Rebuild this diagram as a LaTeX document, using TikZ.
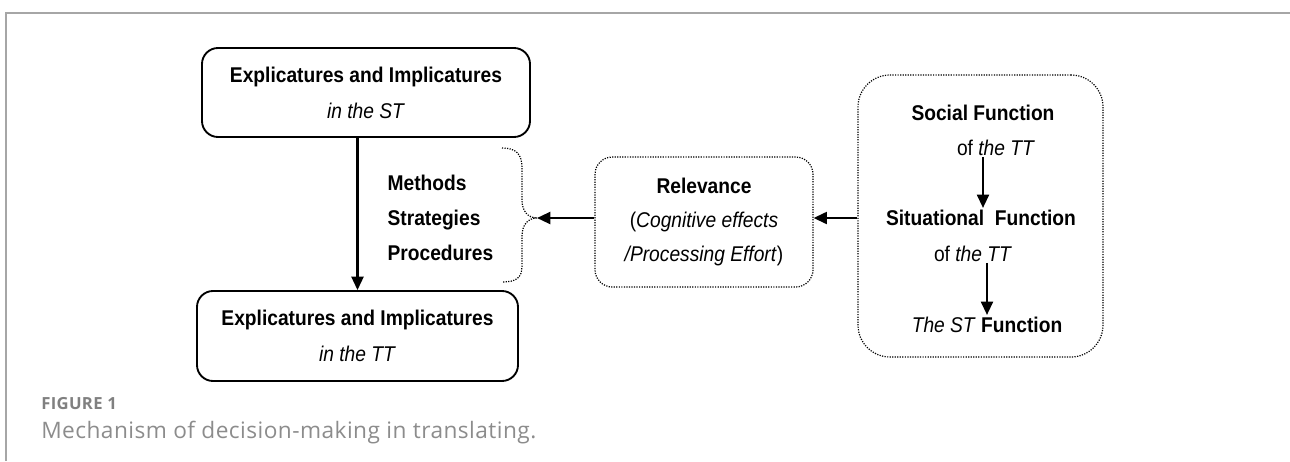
\documentclass[tikz,border=0pt]{standalone}
\usepackage{fontspec}
\setmainfont{Liberation Sans}[FakeStretch=0.9]
\newfontfamily\capfont{Open Sans}[LetterSpace=2]
\usetikzlibrary{positioning, arrows.meta}

\begin{document}
\begin{tikzpicture}[
  x=0.75pt, y=-0.75pt,
  node distance=10pt and 20pt,
  solidbox/.style={rectangle, draw, line width=1.4pt, rounded corners=12pt, align=center, font=\fontsize{16}{27}\selectfont},
  dotbox/.style={rectangle, draw, densely dotted, line width=0.9pt, align=center, font=\fontsize{16}{25.5}\selectfont},
  txt/.style={inner sep=1pt, font=\fontsize{16}{18}\selectfont},
  arrow/.style={line width=1.6pt, -{Triangle[length=10pt, width=9pt]}},
  frame/.style={draw=black!35, line width=1.5pt},
  capstyle/.style={anchor=base west, inner sep=0pt}
  ]

  % Frame
  \useasboundingbox (0,0) rectangle (1290,461);
  \draw[frame] (6,461) -- (6,13) -- (1290,13);

  % Nodes
  \node[solidbox, minimum width=246pt, minimum height=66.75pt] (stbox) at (366,92.5) {\textbf{Explicatures and Implicatures}\\\textit{in the ST}};
  \node[solidbox, minimum width=240.75pt, minimum height=67.5pt] (ttbox) at (357.5,336) {\textbf{Explicatures and Implicatures}\\\textit{in the TT}};
  \node[txt, align=left, anchor=west, font=\fontsize{16}{26}\selectfont\bfseries] (methods) at (386,218) {Methods\\Strategies\\Procedures};
  \node[dotbox, rounded corners=13pt, minimum width=163.5pt, minimum height=97.5pt] (rel) at (704,222) {\textbf{Relevance}\\(\textit{Cognitive effects}\\\textit{/Processing Effort})};
  \node[dotbox, rounded corners=24pt, minimum width=183.75pt, minimum height=211.5pt] (funcbox) at (980.5,216) {};

  \node[txt, anchor=base] (social) at (983,120) {\textbf{Social Function}};
  \node[txt, anchor=base] (socialof) at (996,155) {of \textit{the TT}};
  \node[txt, anchor=base] (situ) at (981,225) {\textbf{Situational\hspace{0.5em}Function}};
  \node[txt, anchor=base] (situof) at (973,261) {of \textit{the TT}};
  \node[txt, anchor=base] (stfun) at (987,332) {\textit{The ST} \textbf{Function}};

  % Brace
  \coordinate (tip) at (537,218);
  \draw[densely dotted, line width=0.9pt] (502,148) .. controls (516,148) and (522,154) .. (522,168) -- (522,200) .. controls (522,211) and (528,218) .. (tip) .. controls (528,218) and (522,225) .. (522,236) -- (522,266) .. controls (522,278) and (516,282) .. (502,282);

  % Arrows
  \draw[arrow] (stbox.south -| ttbox.north) -- (ttbox.north);
  \draw[arrow] (rel.west |- tip) -- (tip);
  \draw[arrow] (funcbox.west |- tip) -- (rel.east |- tip);
  \draw[arrow] (socialof.south -| social.south) -- (social.south |- situ.north);
  \draw[arrow] (situof.south -| stfun.north) -- (stfun.north);

  % Caption
  \node[capstyle, text=black!50, font=\capfont\bfseries\fontsize{12.5}{14}\selectfont] (fignum) at (41,409) {FIGURE 1};
  \node[capstyle, text=black!45, font=\capfont\fontsize{17}{19}\selectfont] (caption) at (41,438) {Mechanism of decision-making in translating.};

\end{tikzpicture}
\end{document}
